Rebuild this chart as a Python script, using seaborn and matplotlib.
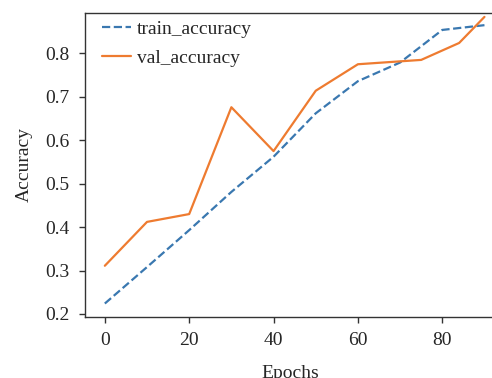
import pandas as pd
import numpy as np
import seaborn as sb
import matplotlib.pyplot as plt

#Data
trainEpochs = [0, 10, 20, 30, 40, 50, 60, 70, 80, 90]
trainAccuracy = [0.224, 0.308, 0.393, 0.481, 0.562, 0.662, 0.736, 0.779, 0.854, 0.865]
valEpochs = [0, 10, 20, 30, 40, 50, 60, 75, 84, 90]
valAccuracy = [0.311, 0.412, 0.430, 0.676, 0.575, 0.714, 0.775, 0.785, 0.824, 0.884]

train = pd.DataFrame({"Epochs": trainEpochs, "Accuracy": trainAccuracy})
val = pd.DataFrame({"Epochs": valEpochs, "Accuracy": valAccuracy})

sb.set_style("ticks")
plt.rcParams["font.family"] = ["Liberation Serif", "DejaVu Serif"]
plt.rcParams["font.size"] = 14

fig = plt.figure(figsize=(4.92, 3.78), dpi=100)
ax = fig.add_axes([85 / 492, 61 / 378, 410 / 492, 304 / 378])

#Graph
sb.lineplot(data=train, x="Epochs", y="Accuracy", ax=ax, color="#3a78b0",
            linestyle="--", linewidth=1.6, label="train_accuracy")
sb.lineplot(data=val, x="Epochs", y="Accuracy", ax=ax, color="#ee7b30",
            linewidth=1.6, label="val_accuracy")

#Custom the Graph
ax.set_xlim(-4.7, 92.5)
ax.set_ylim(0.193, 0.893)
ax.set_xticks([0, 20, 40, 60, 80])
ax.set_yticks([0.2, 0.3, 0.4, 0.5, 0.6, 0.7, 0.8])
ax.set_xlabel("Epochs", fontsize=14, labelpad=11)
ax.set_ylabel("Accuracy", fontsize=14, labelpad=9)
ax.tick_params(labelsize=14, length=4, width=1, color="#333333")
ax.tick_params(axis="x", pad=7)
ax.tick_params(axis="y", pad=7)
for side in ["left", "bottom", "top"]:
    ax.spines[side].set_color("#333333")
    ax.spines[side].set_linewidth(1)
ax.spines["right"].set_visible(False)

ax.legend(loc="upper left", bbox_to_anchor=(0.0415, 0.975), frameon=False,
          borderpad=0, borderaxespad=0, handlelength=1.5, handletextpad=0.3,
          labelspacing=0.58, fontsize=14)

plt.savefig("out.png", dpi=100)
